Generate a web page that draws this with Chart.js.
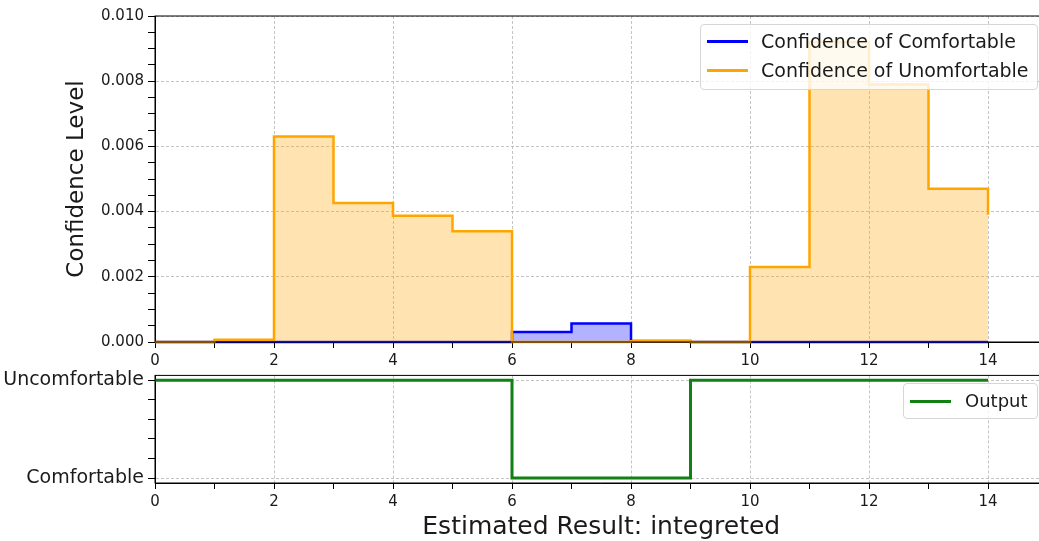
<!DOCTYPE html>
<html>
<head>
<meta charset="utf-8">
<script src="https://cdn.jsdelivr.net/npm/chart.js@4.4.1/dist/chart.umd.min.js"></script>
<style>
    html, body { margin: 0; padding: 0; background: #fff; overflow: hidden; }
    body { width: 1039px; height: 541px; position: relative; font-family: "DejaVu Sans", sans-serif; }
    canvas { position: absolute; left: 0; }
    #confCanvas { top: 0; }
    #outCanvas { top: 360px; }
    .legend {
        position: absolute;
        background: rgba(255, 255, 255, 0.8);
        border: 1px solid #d6d6d6;
        border-radius: 4px;
        color: #1a1a1a;
        box-sizing: border-box;
    }
    .legend .row { position: absolute; left: 0; right: 0; height: 24px; }
    .legend .swatch { position: absolute; height: 3px; top: 11px; }
    .legend .label { position: absolute; top: 0; line-height: 24px; white-space: nowrap; }
</style>
</head>
<body>
<canvas id="confCanvas" width="1060" height="372"></canvas>
<canvas id="outCanvas" width="1060" height="181"></canvas>

<div class="legend" id="confLegend" style="left:700px; top:24px; width:338px; height:66px; font-size:19px;"></div>
<div class="legend" id="outLegend" style="left:903px; top:383px; width:135px; height:36px; font-size:18px;"></div>

<script>
// x positions of the estimated result (0..14)
const resultSteps = [0, 1, 2, 3, 4, 5, 6, 7, 8, 9, 10, 11, 12, 13, 14];

// confidence levels
const confComfortable   = [0, 0, 0, 0, 0, 0, 0.00031, 0.00057, 0.00003, 0, 0, 0, 0, 0, 0];
const confUncomfortable = [0, 0.00007, 0.0063, 0.00426, 0.00387, 0.0034, 0, 0, 0.00002, 0, 0.0023, 0.0092, 0.0079, 0.0047, 0.0039];

// decision output: 1 = Uncomfortable, 0 = Comfortable
const outputLevels = [1, 1, 1, 1, 1, 1, 0, 0, 0, 1, 1, 1, 1, 1, 1];

// tick labels
const xMajorTicks = [0, 2, 4, 6, 8, 10, 12, 14];
const xMinorTicks = [1, 3, 5, 7, 9, 11, 13, 15];
const confMajorTicks = [0, 0.002, 0.004, 0.006, 0.008, 0.010];
const outputTickValues = [0, 1];
const outputTickLabels = ["Comfortable", "Uncomfortable"];

const legendLabels = ["Confidence of Comfortable", "Confidence of Unomfortable"];
const outputLegendLabel = "Output";

const BLUE = "#0000ff";
const ORANGE = "#ffa500";
const GREEN = "#138013";
const GRID = "#b5b5b5";
const TEXT = "#1a1a1a";
const FONT = "'DejaVu Sans', sans-serif";

function toPoints(values) {
    return resultSteps.map((x, i) => ({ x: x, y: values[i] }));
}

function minorBetween(majors, parts) {
    const out = [];
    for (let i = 0; i < majors.length - 1; i++) {
        const step = (majors[i + 1] - majors[i]) / parts;
        for (let k = 1; k < parts; k++) out.push(majors[i] + step * k);
    }
    return out;
}

function buildTicks(majors, minors) {
    return majors.map(v => ({ value: v, major: true }))
        .concat(minors.map(v => ({ value: v, major: false })))
        .sort((a, b) => a.value - b.value);
}

// draws the full box around the plot area (top + right spines)
const frameBox = {
    id: "frameBox",
    afterDatasetsDraw(chart) {
        const { ctx, chartArea } = chart;
        ctx.save();
        ctx.strokeStyle = "#000";
        ctx.lineWidth = 1;
        ctx.strokeRect(chartArea.left, chartArea.top, chartArea.right - chartArea.left, chartArea.bottom - chartArea.top);
        ctx.restore();
    }
};

function xAxis(height, titleOptions) {
    return {
        type: "linear",
        min: 0,
        max: 15,
        afterBuildTicks: scale => { scale.ticks = buildTicks(xMajorTicks, xMinorTicks); },
        afterFit: scale => { scale.height = height; },
        ticks: {
            autoSkip: false,
            maxRotation: 0,
            padding: 4,
            color: TEXT,
            font: { family: FONT, size: 15 },
            callback: (value, index, ticks) => ticks[index].major ? String(value) : ""
        },
        grid: {
            color: ctx => ctx.tick && ctx.tick.major ? GRID : "rgba(0,0,0,0)",
            lineWidth: 0.8,
            tickColor: "#000",
            tickLength: 6,
            tickWidth: 1
        },
        border: { color: "#000", width: 1, dash: [3, 2] },
        title: titleOptions || { display: false }
    };
}

function commonOptions(padding) {
    return {
        responsive: false,
        animation: false,
        layout: { padding: padding },
        plugins: {
            legend: { display: false },
            tooltip: { enabled: false }
        },
        elements: { point: { radius: 0 } }
    };
}

new Chart(document.getElementById("confCanvas"), {
    type: "line",
    data: {
        datasets: [
            {
                label: legendLabels[0],
                data: toPoints(confComfortable),
                borderColor: BLUE,
                backgroundColor: "rgba(0, 0, 255, 0.3)",
                borderWidth: 2.5,
                stepped: true,
                fill: "origin",
                clip: false,
                order: 1
            },
            {
                label: legendLabels[1],
                data: toPoints(confUncomfortable),
                borderColor: ORANGE,
                backgroundColor: "rgba(255, 165, 0, 0.3)",
                borderWidth: 2.5,
                stepped: true,
                fill: "origin",
                clip: false,
                order: 0
            }
        ]
    },
    options: {
        ...commonOptions({ top: 16, right: 12.5, left: 0, bottom: 0 }),
        scales: {
            x: xAxis(30),
            y: {
                type: "linear",
                min: 0,
                max: 0.010,
                afterBuildTicks: scale => { scale.ticks = buildTicks(confMajorTicks, minorBetween(confMajorTicks, 4)); },
                afterFit: scale => { scale.width = 155; },
                ticks: {
                    autoSkip: false,
                    padding: 4,
                    color: TEXT,
                    font: { family: FONT, size: 15 },
                    callback: (value, index, ticks) => ticks[index].major ? Number(value).toFixed(3) : ""
                },
                grid: {
                    color: ctx => ctx.tick && ctx.tick.major ? GRID : "rgba(0,0,0,0)",
                    lineWidth: 0.8,
                    tickColor: "#000",
                    tickLength: 7,
                    tickWidth: 1
                },
                border: { color: "#000", width: 1, dash: [3, 2] },
                title: {
                    display: true,
                    text: "Confidence Level",
                    color: TEXT,
                    font: { family: FONT, size: 23, lineHeight: 1.2 },
                    padding: { top: 63, bottom: 0 }
                }
            }
        }
    },
    plugins: [frameBox]
});

new Chart(document.getElementById("outCanvas"), {
    type: "line",
    data: {
        datasets: [{
            label: outputLegendLabel,
            data: toPoints(outputLevels),
            borderColor: GREEN,
            borderWidth: 3,
            stepped: true,
            fill: false,
            clip: false
        }]
    },
    options: {
        ...commonOptions({ top: 14, right: 12.5, left: 0, bottom: 0 }),
        scales: {
            x: xAxis(58, {
                display: true,
                text: "Estimated Result: integreted",
                color: TEXT,
                font: { family: FONT, size: 25, lineHeight: 1 },
                padding: { top: 0, bottom: 1 }
            }),
            y: {
                type: "linear",
                min: -0.05,
                max: 1.05,
                afterBuildTicks: scale => { scale.ticks = buildTicks(outputTickValues, minorBetween(outputTickValues, 5)); },
                afterFit: scale => { scale.width = 155; },
                ticks: {
                    autoSkip: false,
                    padding: 4,
                    color: TEXT,
                    font: { family: FONT, size: 19 },
                    callback: (value, index, ticks) => {
                        const at = outputTickValues.indexOf(value);
                        return ticks[index].major && at >= 0 ? outputTickLabels[at] : "";
                    }
                },
                grid: {
                    color: ctx => ctx.tick && ctx.tick.major ? GRID : "rgba(0,0,0,0)",
                    lineWidth: 0.8,
                    tickColor: "#000",
                    tickLength: 7,
                    tickWidth: 1
                },
                border: { color: "#000", width: 1, dash: [3, 2] }
            }
        }
    },
    plugins: [frameBox]
});

function renderLegend(id, items, swatchLeft, swatchWidth, textLeft, rowTops) {
    const box = document.getElementById(id);
    box.innerHTML = items.map((item, i) => `
        <div class="row" style="top:${rowTops[i]}px">
            <div class="swatch" style="left:${swatchLeft}px; width:${swatchWidth}px; background:${item.color}"></div>
            <div class="label" style="left:${textLeft}px">${item.text}</div>
        </div>
    `).join("");
}

renderLegend("confLegend", [
    { text: legendLabels[0], color: BLUE },
    { text: legendLabels[1], color: ORANGE }
], 6, 41, 60, [4, 33]);

renderLegend("outLegend", [
    { text: outputLegendLabel, color: GREEN }
], 6, 41, 61, [5]);
</script>
</body>
</html>
